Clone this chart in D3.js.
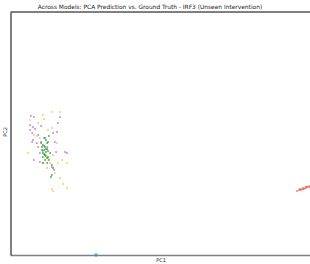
<!DOCTYPE html>
<html><head><meta charset="utf-8">
<script src="https://cdn.jsdelivr.net/npm/d3@7"></script>
<style>body{margin:0;background:#fff}svg{display:block;font-family:"DejaVu Sans",sans-serif}</style>
</head><body><svg id="c" width="310" height="264"></svg>
<script>
const title = "Across Models: PCA Prediction vs. Ground Truth - IRF3 (Unseen Intervention)";
const xLabel = "PC1", yLabel = "PC2";
const purpleX = [-3.2,-2.2,6.5,-3.5,-2.5,0.2,-3.5,-1.8,-2.8,-0.8,5.5,4.2,-2.5,0.2,1.2,4.8,-1.2,-2.8,5.2,-0.2,0.8,8.8,1.5,-2.2,0.8,3.8,-0.2,4.5,2.2,-0.8,5.8,8.2];
const purpleY = [26.3,26.0,26.0,23.3,22.7,23.0,21.7,22.0,20.7,20.0,21.0,20.7,18.3,17.7,19.0,17.7,17.3,17.7,14.3,14.0,14.7,14.0,13.3,11.7,10.7,9.3,11.0,8.3,16.0,16.0,24.0,14.3];
const yellowX = [0.8,3.8,6.5,-3.5,1.2,-0.8,-2.2,-1.2,-0.2,2.5,3.8,5.5,-4.2,4.2,5.8,7.2,3.2,2.2,8.8,6.5,4.8,7.5,8.8,3.8,4.2,2.5];
const yellowY = [26.7,27.7,27.7,25.0,25.3,24.0,20.0,19.7,19.0,21.7,22.3,17.3,14.0,13.3,10.7,11.7,10.7,9.0,10.7,5.7,7.3,3.7,2.3,2.0,1.3,12.3];
const greenX = [1.5,2.8,0.8,0.5,1.5,2.2,1.2,1.8,2.2,0.8,1.5,2.5,2.2,2.8,1.5,0.8,3.2,3.8,4.2,2.2,3.8,3.5,0.2,2.5,1.8,0.8,1.2,1.8,1.2,1.8,0.5,2.5];
const greenY = [19.0,19.7,16.7,16.0,16.0,17.3,15.0,14.3,15.3,14.0,13.3,12.7,12.3,11.7,11.7,12.7,14.0,10.0,9.0,10.7,6.7,6.0,17.3,17.7,18.3,10.7,16.3,15.3,13.7,13.0,15.0,14.7];
const redX = [85.5,86.2,86.5,86.8,87.2,87.5,87.8,88.2,88.5,88.8,89.2,89.5,89.8,86.5,87.5,88.5];
const redY = [1.3,1.7,2.0,1.7,2.0,2.3,2.0,2.3,2.3,2.7,2.7,2.7,3.0,1.7,2.0,2.7];
const blueX = [18.5];
const blueY = [-20];

const series = [
  {x: purpleX, y: purpleY, color: "#b86fd0", r: 1},
  {x: yellowX, y: yellowY, color: "#f7c04a", r: 1},
  {x: greenX, y: greenY, color: "#2ca02c", r: 1},
  {x: redX, y: redY, color: "#ee6f6f", r: 1.1},
  {x: blueX, y: blueY, color: "#1f9ed8", r: 1.8}
];

const svg = d3.select("#c");
const x = d3.scaleLinear().domain([-10, 90]).range([10.5, 310.5]);
const y = d3.scaleLinear().domain([-20, 61]).range([255, 12]);

const xAxis = svg.append("g").attr("transform", `translate(0,${y(-20)})`)
  .call(d3.axisBottom(x).tickValues([]).tickSizeOuter(0));
xAxis.select(".domain").attr("stroke", "#808080").attr("stroke-width", 1.6);
const yAxis = svg.append("g").attr("transform", `translate(${x(-10)},0)`)
  .call(d3.axisLeft(y).tickValues([]).tickSizeOuter(0));
yAxis.select(".domain").attr("stroke", "#000").attr("stroke-width", 1);
svg.append("line").attr("x1", x(-10)).attr("x2", 310).attr("y1", y(61)).attr("y2", y(61))
  .attr("stroke", "#000").attr("stroke-width", 1);

series.forEach(s => {
  svg.append("g").selectAll("circle").data(s.x.map((v,i)=>[v, s.y[i]])).join("circle")
    .attr("cx", d => x(d[0])).attr("cy", d => y(d[1])).attr("r", s.r)
    .attr("fill", s.color).attr("fill-opacity", 0.8);
});

svg.append("text").attr("x", 150).attr("y", 8.5).attr("text-anchor", "middle")
  .attr("font-size", 5.9).attr("fill", "#222").text(title);
svg.append("text").attr("x", 161).attr("y", 261.5).attr("text-anchor", "middle")
  .attr("font-size", 5).attr("fill", "#222").text(xLabel);
svg.append("text").attr("transform", "translate(7,132) rotate(-90)").attr("text-anchor", "middle")
  .attr("font-size", 5).attr("fill", "#222").text(yLabel);
</script></body></html>
